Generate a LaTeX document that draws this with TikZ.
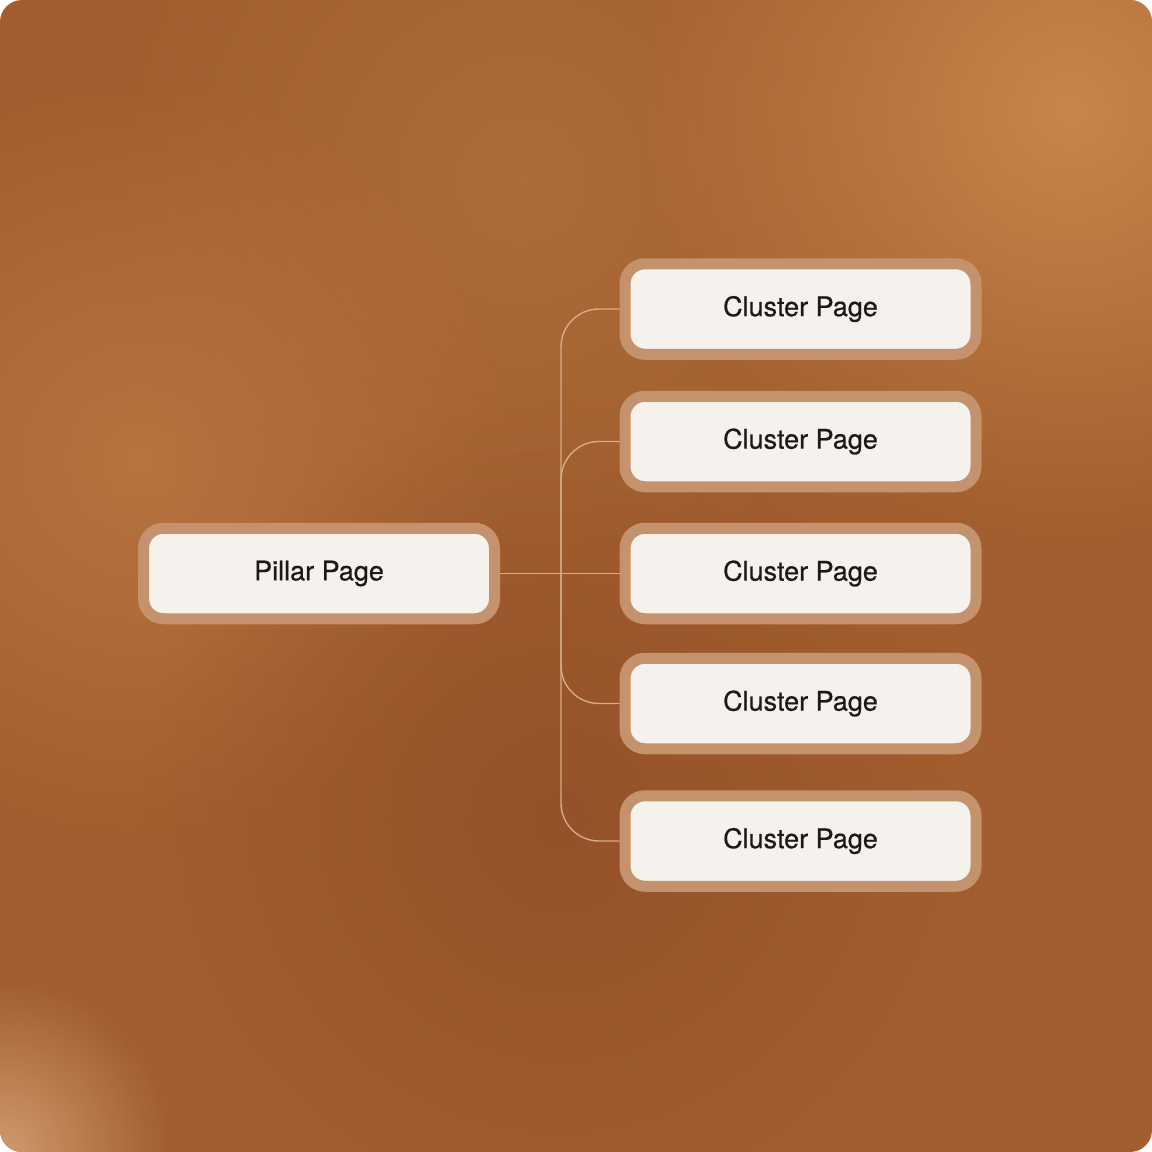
\documentclass[tikz,border=0pt]{standalone}
\usepackage{fontspec}
\setmainfont{TeX Gyre Heros}
\newfontfamily\pagefont[FakeBold=0.6]{TeX Gyre Heros}
\usetikzlibrary{positioning}
\usetikzlibrary{fadings}

\definecolor{bgbase}{HTML}{A25E2E}
\definecolor{bgwarm}{HTML}{C8864A}
\definecolor{bgleft}{HTML}{B8743F}
\definecolor{bgtop}{HTML}{AE6C3A}
\definecolor{bgdark}{HTML}{95522A}
\definecolor{bgcorner}{HTML}{D09A6E}
\definecolor{boxfill}{HTML}{F5F1EC}
\definecolor{boxring}{HTML}{C4926C}
\definecolor{boxtext}{HTML}{1C1A18}
\definecolor{linkcol}{HTML}{D6AC88}

\tikzfading[name = glow, inner color = transparent!0, outer color = transparent!100]

\begin{document}
\begin{tikzpicture}
  [x = 1pt, y = -1pt,
   page/.style = {rectangle, rounded corners = 20pt, fill = boxfill,
     draw = boxring, line width = 11pt,
     minimum width = 351pt, minimum height = 90.5pt,
     text = boxtext, font = \pagefont\fontsize{27}{32}\selectfont},
   link/.style = {draw = linkcol, line width = 1.4pt, rounded corners = 38pt}]
  \useasboundingbox (0, 0) rectangle (1152, 1152);

  % backdrop
  \fill [white] (0, 0) rectangle (1152, 1152);
  \begin{scope}
    \clip [rounded corners = 22pt] (0, 0) rectangle (1152, 1152);
    \fill [bgbase] (0, 0) rectangle (1152, 1152);
    \fill [bgtop, path fading = glow] (520, 180) circle (420);
    \fill [bgleft, path fading = glow] (140, 460) circle (380);
    \fill [bgwarm, path fading = glow] (1070, 110) circle (430);
    \fill [bgdark, path fading = glow] (560, 820) circle (420);
    \fill [bgcorner, path fading = glow] (0, 1152) circle (170);
  \end{scope}

  \node [page] (pillar) at (319, 573.5) {Pillar Page};
  \node [page] (c1) at (800.5, 309) {Cluster Page};
  \node [page] (c2) at (800.5, 441.5) {Cluster Page};
  \node [page] (c3) at (800.5, 573.5) {Cluster Page};
  \node [page] (c4) at (800.5, 703.5) {Cluster Page};
  \node [page] (c5) at (800.5, 841) {Cluster Page};

  \coordinate (hub) at (561, 573.5);

  \draw [link] (pillar.east) -- (c3.west);
  \draw [link] (c1.west) -| (hub) |- (c5.west);
  \draw [link] (c2.west) -| (hub);
  \draw [link] (c4.west) -| (hub);
\end{tikzpicture}
\end{document}
